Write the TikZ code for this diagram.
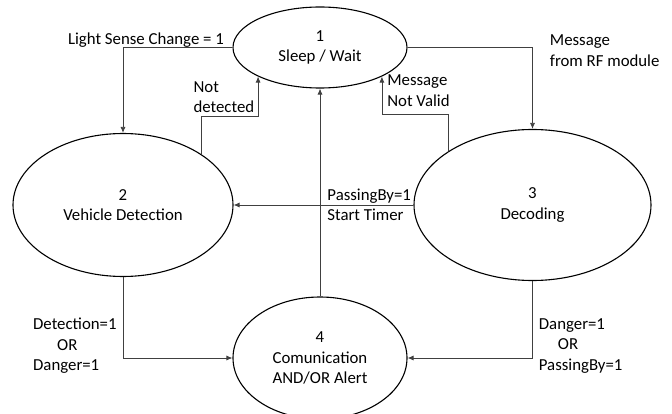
\documentclass[tikz,border=0pt]{standalone}
\usepackage{fontspec}
\setmainfont{Carlito}
\usepackage{tikz}
\usetikzlibrary{shapes.geometric, arrows.meta, calc, positioning}
\tikzstyle{state} = [ellipse, line width=1.1pt, draw=black, inner sep=0pt, align=center]
\tikzstyle{arrow} = [line width=0.8pt, draw=black!75, ->, >={Latex[length=6pt,width=5pt]}]
\tikzstyle{cond} = [inner sep=1pt, align=left]

\begin{document}
\begin{tikzpicture}[x=1pt, y=-1pt, font=\fontsize{16.8}{20.5}\selectfont]
	\useasboundingbox (0,0) rectangle (672,414);
	\node (Sleep) [state, minimum width=174pt, minimum height=81pt] at (320,47.5) {1\\Sleep / Wait};
	\node (Detect) [state, minimum width=220pt, minimum height=143pt] at (123,205) {2\\Vehicle Detection};
	\node (Decode) [state, minimum width=237pt, minimum height=151pt] at (532.5,205) {3\\Decoding};
	\node (Comm) [state, minimum width=174pt, minimum height=122pt] at (320,358) {4\\Comunication\\AND/OR Alert};
	\draw [arrow] (Sleep.west) -| node[cond, pos=0.395, above, yshift=-1pt] {Light Sense Change = 1} (Detect.north);
	\draw [arrow] (Detect.north east) -- ++(0,-38) node[cond, anchor=south west, xshift=-9pt, yshift=2pt] {Not\\detected} -| (Sleep.south west);
	\draw [arrow] (Decode.north west) -- ++(0,-37) -| node[cond, pos=1, anchor=north west, xshift=4pt, yshift=3pt] {Message\\Not Valid} (Sleep.south east);
	\draw [arrow] (Sleep.east) -| node[cond, pos=0.5, anchor=north west, xshift=16pt, yshift=14pt] {Message\\from RF module} (Decode.north);
	\draw [arrow] (Decode.west) -- node[cond, pos=0.486, anchor=west] {PassingBy=1\\Start Timer} (Detect.east);
	\draw [arrow] (Comm.north) -- (Sleep.south);
	\draw [arrow] (Detect.south) |- node[cond, pos=0.426, left=5pt] {Detection=1\\\hspace*{24pt}OR\\Danger=1} (Comm.west);
	\draw [arrow] (Decode.south) |- node[cond, pos=0.42, right=5pt] {Danger=1\\\hspace*{19pt}OR\\PassingBy=1} (Comm.east);
\end{tikzpicture}
\end{document}
